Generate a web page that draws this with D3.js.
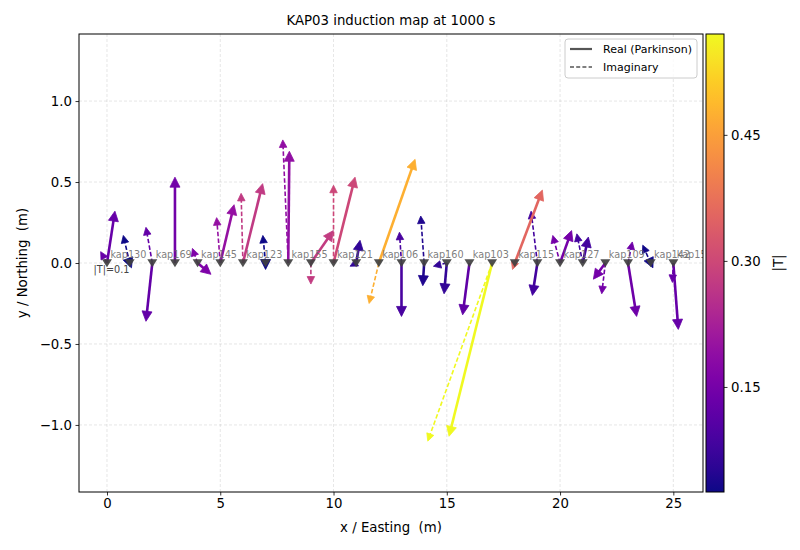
<!DOCTYPE html>
<html>
<head>
<meta charset="utf-8">
<script src="https://cdn.jsdelivr.net/npm/d3@7"></script>
<style>
    body { margin: 0; background: #fff; }
    text { font-family: "DejaVu Sans", sans-serif; white-space: pre; }
</style>
</head>
<body>
<div id="chart"></div>
<script>
// station positions along the line (m)
var stationX = [0, 1, 2, 3, 4, 5, 6, 7, 8, 9, 10, 11, 12, 13, 14, 15, 16, 17, 18, 19, 20, 21, 22, 23, 24, 25];

// induction arrows as drawn on the map (m of easting / northing)
var realE = [0.35, 0.08, -0.28, 0.00, 0.59, 0.61, 0.87, 0.00, 0.05, 0.99, 0.95, 0.17, 1.60, 0.00, -0.06, -0.12, -0.30, -1.90, 1.22, -0.22, 0.51, 0.25, -0.53, 0.38, 0.10, 0.22];
var realN = [0.32, -0.03, -0.36, 0.53, -0.07, 0.36, 0.49, -0.04, 0.69, 0.20, 0.53, 0.14, 0.64, -0.33, -0.14, -0.19, -0.32, -1.07, 0.45, -0.20, 0.20, 0.16, -0.10, -0.33, -0.03, -0.41];
var imagE = [-0.28, -0.28, -0.28, 0.00, -0.23, -0.16, -0.08, -0.12, -0.24, 0.00, 0.00, -0.27, -0.43, -0.09, -0.15, -0.59, 0.00, -2.84, -0.10, -0.28, -0.32, -0.26, -0.16, 0.19, -0.35, -0.04];
var imagN = [0.07, 0.17, 0.22, 0.00, 0.09, 0.28, 0.43, 0.17, 0.76, -0.13, 0.48, -0.02, -0.25, 0.19, 0.29, -0.02, 0.00, -1.10, -0.04, 0.32, 0.17, 0.18, -0.19, 0.13, 0.11, -0.12];

// station names (every other one is printed)
var labelX = [0, 2, 4, 6, 8, 10, 12, 14, 16, 18, 20, 22, 24, 25];
var labelNames = ["kap130", "kap169", "kap145", "kap123", "kap155", "kap121", "kap106", "kap160", "kap103", "kap115", "kap127", "kap109", "kap142", "kap151"];

var xTicks = [0, 5, 10, 15, 20, 25];
var yTicks = [-1.0, -0.5, 0.0, 0.5, 1.0];
var cbTicks = [0.15, 0.30, 0.45];
var tRange = [0.025, 0.57];
var arrowScale = 3.65; // map metres per unit |T|

var width = 800, height = 550;
var plot = {left: 79, right: 703, top: 34, bottom: 492};

var svg = d3.select("#chart").append("svg")
    .attr("width", width)
    .attr("height", height);

var x = d3.scaleLinear().domain([-1.236, 26.31]).range([plot.left, plot.right]);
var y = d3.scaleLinear().domain([-1.414, 1.414]).range([plot.bottom, plot.top]);
var color = d3.scaleSequential(d3.interpolatePlasma).domain(tRange).clamp(true);

svg.append("defs").append("clipPath").attr("id", "clip")
    .append("rect")
    .attr("x", plot.left).attr("y", plot.top)
    .attr("width", plot.right - plot.left).attr("height", plot.bottom - plot.top);

// grid
var grid = svg.append("g");
grid.selectAll(".gx").data(xTicks).enter().append("line")
    .attr("x1", function(d) { return x(d); }).attr("x2", function(d) { return x(d); })
    .attr("y1", plot.top).attr("y2", plot.bottom);
grid.selectAll(".gy").data(yTicks).enter().append("line")
    .attr("y1", function(d) { return y(d); }).attr("y2", function(d) { return y(d); })
    .attr("x1", plot.left).attr("x2", plot.right);
grid.selectAll("line")
    .attr("stroke", "#b0b0b0").attr("stroke-opacity", 0.4)
    .attr("stroke-width", 0.8).attr("stroke-dasharray", "3,2");

var body = svg.append("g").attr("clip-path", "url(#clip)");

function drawArrow(g, x0, y0, x1, y1, col, lw, hl, hw, dashed) {
    var px0 = x(x0), py0 = y(y0), px1 = x(x1), py1 = y(y1);
    var dx = px1 - px0, dy = py1 - py0;
    var L = Math.sqrt(dx * dx + dy * dy);
    if (L === 0) return;
    var ux = dx / L, uy = dy / L;
    var bx = px1 - hl * ux, by = py1 - hl * uy;
    if (L > hl) {
        g.append("line")
            .attr("x1", px0).attr("y1", py0)
            .attr("x2", bx + ux).attr("y2", by + uy)
            .attr("stroke", col)
            .attr("stroke-width", lw)
            .attr("stroke-dasharray", dashed ? "4.5,2.2" : null);
    }
    var nx = -uy * hw / 2, ny = ux * hw / 2;
    g.append("path")
        .attr("d", "M" + px1 + "," + py1 + "L" + (bx + nx) + "," + (by + ny) + "L" + (bx - nx) + "," + (by - ny) + "Z")
        .attr("fill", col)
        .attr("stroke", col)
        .attr("stroke-width", 0.8);
}

// |T| of the real arrow decides the colour of both arrows at a station
function tAbs(i) {
    return Math.sqrt(realE[i] * realE[i] + realN[i] * realN[i]) / arrowScale;
}

var imagG = body.append("g");
var realG = body.append("g");
for (var i = 0; i < stationX.length; i++) {
    var c = color(tAbs(i));
    drawArrow(imagG, stationX[i], 0, stationX[i] + imagE[i], imagN[i], c, 1.6, 7.5, 7.5, true);
    drawArrow(realG, stationX[i], 0, stationX[i] + realE[i], realN[i], c, 2.6, 10, 10, false);
}

// station markers
body.append("g").selectAll("path")
    .data(stationX)
    .enter().append("path")
    .attr("d", "M-5,-3.8L5,-3.8L0,4.2Z")
    .attr("transform", function(d) { return "translate(" + x(d) + "," + y(0) + ")"; })
    .attr("fill", "#404040")
    .attr("fill-opacity", 0.92);

// station names
body.append("g").selectAll("text")
    .data(labelX)
    .enter().append("text")
    .attr("x", function(d) { return x(d + 0.15); })
    .attr("y", y(0.03))
    .attr("font-size", "9.7px")
    .attr("fill", "#666")
    .attr("fill-opacity", 0.85)
    .text(function(d, i) { return labelNames[i]; });

svg.append("text")
    .attr("x", x(0.2)).attr("y", y(-0.06))
    .attr("text-anchor", "middle")
    .attr("font-size", "9.7px")
    .attr("fill", "#444")
    .text("|T|=0.1");

// axes
var xAxis = svg.append("g")
    .attr("transform", "translate(0," + plot.bottom + ")")
    .call(d3.axisBottom(x).tickValues(xTicks).tickSize(3.5).tickPadding(3.5).tickFormat(d3.format("d")));
var yAxis = svg.append("g")
    .attr("transform", "translate(" + plot.left + ",0)")
    .call(d3.axisLeft(y).tickValues(yTicks).tickSize(3.5).tickPadding(3.5).tickFormat(d3.format(".1f")));
[xAxis, yAxis].forEach(function(a) {
    a.select(".domain").remove();
    a.selectAll("text").attr("font-size", "13.3px").attr("fill", "#000").style("font-family", "DejaVu Sans");
    a.selectAll("line").attr("stroke", "#000").attr("stroke-width", 0.8);
});

svg.append("rect")
    .attr("x", plot.left).attr("y", plot.top)
    .attr("width", plot.right - plot.left).attr("height", plot.bottom - plot.top)
    .attr("fill", "none").attr("stroke", "#000").attr("stroke-width", 1);

svg.append("text")
    .attr("x", (plot.left + plot.right) / 2).attr("y", 25)
    .attr("text-anchor", "middle").attr("font-size", "13.3px")
    .text("KAP03 induction map at 1000 s");
svg.append("text")
    .attr("x", (plot.left + plot.right) / 2).attr("y", 532)
    .attr("text-anchor", "middle").attr("font-size", "13.3px")
    .text("x / Easting  (m)");
svg.append("text")
    .attr("transform", "translate(27," + ((plot.top + plot.bottom) / 2) + ") rotate(-90)")
    .attr("text-anchor", "middle").attr("font-size", "13.3px")
    .text("y / Northing  (m)");

// legend
var legend = svg.append("g").attr("transform", "translate(565,39)");
legend.append("rect")
    .attr("width", 132).attr("height", 39).attr("rx", 3)
    .attr("fill", "#fff").attr("fill-opacity", 0.8)
    .attr("stroke", "#ccc").attr("stroke-width", 1);
var legendItems = ["Real (Parkinson)", "Imaginary"];
legendItems.forEach(function(name, k) {
    var ly = 10 + k * 18;
    legend.append("line")
        .attr("x1", 5).attr("x2", 27).attr("y1", ly).attr("y2", ly)
        .attr("stroke", "#555").attr("stroke-width", k === 0 ? 2.2 : 1.5)
        .attr("stroke-dasharray", k === 0 ? null : "4,2.2");
    legend.append("text")
        .attr("x", 38).attr("y", ly + 4)
        .attr("font-size", "11px")
        .text(name);
});

// colour bar
var cb = {x: 706, w: 18};
var cbScale = d3.scaleLinear().domain(tRange).range([plot.bottom, plot.top]);
var grad = svg.select("defs").append("linearGradient")
    .attr("id", "cbgrad").attr("x1", 0).attr("y1", 1).attr("x2", 0).attr("y2", 0);
d3.range(0, 1.0001, 0.05).forEach(function(t) {
    grad.append("stop").attr("offset", t).attr("stop-color", d3.interpolatePlasma(t));
});
svg.append("rect")
    .attr("x", cb.x).attr("y", plot.top)
    .attr("width", cb.w).attr("height", plot.bottom - plot.top)
    .attr("fill", "url(#cbgrad)")
    .attr("stroke", "#000").attr("stroke-width", 1);
var cbAxis = svg.append("g")
    .attr("transform", "translate(" + (cb.x + cb.w) + ",0)")
    .call(d3.axisRight(cbScale).tickValues(cbTicks).tickSize(3.5).tickPadding(3.5).tickFormat(d3.format(".2f")));
cbAxis.select(".domain").remove();
cbAxis.selectAll("text").attr("font-size", "13.3px").attr("fill", "#000").style("font-family", "DejaVu Sans");
cbAxis.selectAll("line").attr("stroke", "#000").attr("stroke-width", 0.8);
svg.append("text")
    .attr("transform", "translate(783," + ((plot.top + plot.bottom) / 2) + ") rotate(-90)")
    .attr("text-anchor", "middle").attr("font-size", "13.3px")
    .text("|T|");
</script>
</body>
</html>
